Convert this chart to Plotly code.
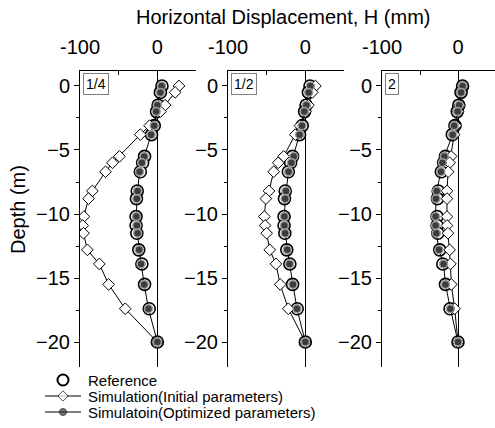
import plotly.graph_objects as go

depth = [0, -0.5, -1.5, -2.0, -3.1, -3.8, -5.5, -6.0, -6.7, -8.2, -8.8, -10.2, -10.9, -11.5, -12.8, -13.9, -15.5, -17.4, -20.0]

reference = [6, 4, 1, -1, -4, -7.5, -16.5, -19, -22, -26, -27, -27.5, -27.5, -26.5, -24, -20, -16.5, -10.5, 0]

init_1_4 = [28, 23, 10, 4, -10, -22, -49, -58, -67, -84, -89, -95, -96.5, -95.5, -90.5, -75, -63, -41.5, 0]
init_1_2 = [13, 9, 4, 0, -7, -13, -28, -35, -41, -47, -51, -53, -52, -50, -46, -38, -32.5, -22, 0]
init_2 = [6, 4, 2, 0, -3, -5, -9, -11, -13, -14.5, -14.5, -14.5, -14.5, -13.2, -11, -10, -8.8, -4.4, 0]

opt_1_4 = [5.5, 4, 0, -1.5, -4, -8, -17, -20, -23, -25.5, -26.5, -27, -26.5, -25.5, -23.5, -21, -17, -11.5, 0]
opt_1_2 = [6.5, 4.3, 1.3, -1.3, -4.3, -7.4, -15, -18, -21.7, -25, -26, -27, -27, -26, -23.4, -20.4, -16, -10.8, 0]
opt_2 = [6, 4, 1.5, -0.5, -5, -7, -18, -20.5, -22.5, -28, -29, -29.5, -29.5, -28.5, -25, -19, -16.5, -10, 0]

panel_labels = ["1/4", "1/2", "2"]
series_names = ["Reference", "Simulation(Initial parameters)", "Simulatoin(Optimized parameters)"]
inits = [init_1_4, init_1_2, init_2]
opts = [opt_1_4, opt_1_2, opt_2]

x_ticks = [-100, -50, 0, 50]
x_ticktext = ["-100", "", "0", ""]

W, H = 495, 428
FONT = "Liberation Sans, Arial, sans-serif"

# pixel layout
x_dom_px = [(80, 196), (228, 344), (382, 495)]
x_ranges = [[-100, 50], [-100, 50], [-100, 100 * (495 - 382) / 76 - 100]]
y_top_px, y_bot_px = 71, 367
y_range = [-21.95, 1.17]

ref_marker = dict(symbol="circle", size=12, color="white", line=dict(color="black", width=1.6))
init_marker = dict(symbol="diamond", size=9, color="white", line=dict(color="black", width=1))
opt_marker = dict(symbol="circle", size=8, color="#3c3c3c", line=dict(color="#a0a0a0", width=1.5))

fig = go.Figure()
for i in range(3):
    xa = "x" if i == 0 else f"x{i+1}"
    ya = "y" if i == 0 else f"y{i+1}"
    fig.add_trace(go.Scatter(
        x=reference, y=depth, xaxis=xa, yaxis=ya, mode="markers",
        name=series_names[0], marker=ref_marker,
    ))
    fig.add_trace(go.Scatter(
        x=inits[i], y=depth, xaxis=xa, yaxis=ya, mode="lines+markers",
        name=series_names[1], line=dict(color="black", width=1), marker=init_marker,
    ))
    fig.add_trace(go.Scatter(
        x=opts[i], y=depth, xaxis=xa, yaxis=ya, mode="lines+markers",
        name=series_names[2], line=dict(color="black", width=1), marker=opt_marker,
    ))

# manual legend on a pixel-coordinate overlay axis
leg_rows = [380, 396, 412]
fig.add_trace(go.Scatter(x=[63], y=[leg_rows[0]], xaxis="x4", yaxis="y4", mode="markers",
                         marker=dict(symbol="circle", size=11, color="white",
                                     line=dict(color="black", width=2))))
fig.add_trace(go.Scatter(x=[45, 63, 81], y=[leg_rows[1]] * 3, xaxis="x4", yaxis="y4",
                         mode="lines+markers", line=dict(color="black", width=1),
                         marker=dict(symbol="diamond", size=[0, 8, 0], color="white",
                                     line=dict(color="black", width=1))))
fig.add_trace(go.Scatter(x=[45, 63, 81], y=[leg_rows[2]] * 3, xaxis="x4", yaxis="y4",
                         mode="lines+markers", line=dict(color="black", width=1),
                         marker=dict(symbol="circle", size=[0, 7, 0], color="#3c3c3c",
                                     line=dict(color="black", width=1))))

layout = dict(
    width=W, height=H, autosize=False, showlegend=False,
    margin=dict(l=0, r=0, t=0, b=0, autoexpand=False),
    paper_bgcolor="white", plot_bgcolor="rgba(0,0,0,0)",
    font=dict(family=FONT, size=20, color="black"),
    xaxis4=dict(domain=[0, 1], range=[0, W], visible=False, anchor="y4", fixedrange=True),
    yaxis4=dict(domain=[0, 1], range=[H, 0], visible=False, anchor="x4", fixedrange=True),
)
annotations = []
for i in range(3):
    xk = "xaxis" if i == 0 else f"xaxis{i+1}"
    yk = "yaxis" if i == 0 else f"yaxis{i+1}"
    ya = "y" if i == 0 else f"y{i+1}"
    xa = "x" if i == 0 else f"x{i+1}"
    x0, x1 = x_dom_px[i]
    layout[xk] = dict(
        domain=[x0 / W, min(x1 / W, 1.0)], range=x_ranges[i], anchor=ya, side="top",
        tickvals=x_ticks, ticktext=x_ticktext, ticks="inside", ticklen=4,
        tickcolor="black", showline=True, linecolor="black", linewidth=1,
        showgrid=False, zeroline=True, zerolinecolor="black", zerolinewidth=1,
        tickfont=dict(size=20), ticklabelstandoff=8, automargin=False,
    )
    layout[yk] = dict(
        domain=[1 - y_bot_px / H, 1 - y_top_px / H], range=y_range, anchor=xa,
        tick0=0, dtick=5, ticks="outside", ticklen=5, tickcolor="black",
        minor=dict(dtick=2.5, tick0=0, ticks="outside", ticklen=3, tickcolor="black"),
        showline=True, linecolor="black", linewidth=1, showgrid=False, zeroline=False,
        tickfont=dict(size=20), automargin=False,
    )
    annotations.append(dict(
        text=panel_labels[i], xref="paper", yref="paper",
        x=(x0 + 3) / W, y=1 - (y_top_px + 2) / H, xanchor="left", yanchor="top",
        showarrow=False, font=dict(size=14), bordercolor="#808080", borderwidth=1,
        borderpad=2, bgcolor="white",
    ))
for name, yy in zip(series_names, leg_rows):
    annotations.append(dict(
        text=name, xref="paper", yref="paper", x=86 / W, y=1 - yy / H,
        xanchor="left", yanchor="middle", showarrow=False, font=dict(size=15)))
annotations.append(dict(
    text="Horizontal Displacement, H (mm)", xref="paper", yref="paper",
    x=283 / W, y=1 - 17 / H, xanchor="center", yanchor="middle",
    showarrow=False, font=dict(size=20)))
annotations.append(dict(
    text="Depth (m)", xref="paper", yref="paper", textangle=-90,
    x=18 / W, y=1 - 210 / H, xanchor="center", yanchor="middle",
    showarrow=False, font=dict(size=20)))
layout["annotations"] = annotations
fig.update_layout(**layout)
fig.write_html("out.html")
